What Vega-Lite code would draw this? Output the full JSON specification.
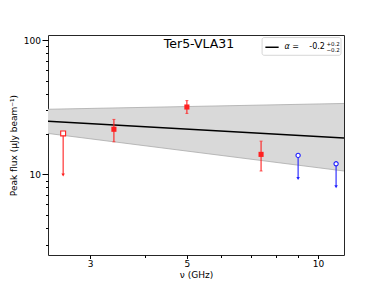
{
  "$schema": "https://vega.github.io/schema/vega-lite/v6.json",
  "width": 296,
  "height": 220,
  "autosize": "none",
  "padding": {"left": 48, "top": 35, "right": 38, "bottom": 32},
  "background": "white",
  "config": {
    "view": {"stroke": "#262626", "strokeWidth": 1},
    "axis": {
      "domain": false, "grid": false,
      "labelFont": "DejaVu Sans", "labelFontSize": 9, "labelColor": "#000",
      "tickColor": "#000", "tickWidth": 1,
      "titleFont": "DejaVu Sans", "titleFontSize": 9, "titleFontWeight": "normal", "titleColor": "#000",
      "labelOverlap": false, "labelFlush": false
    }
  },
  "datasets": {
    "band": [
      {"nu": 2.4, "lo": 20.2, "hi": 30.6, "fit": 24.9},
      {"nu": 11.47, "lo": 10.6, "hi": 33.8, "fit": 18.7}
    ],
    "points": [
      {"nu": 2.6, "flux": 20.2, "lo": 9.9, "hi": 20.2, "kind": "limit", "series": "A"},
      {"nu": 3.4, "flux": 21.7, "lo": 17.5, "hi": 25.7, "kind": "det", "series": "A"},
      {"nu": 5.0, "flux": 31.8, "lo": 28.5, "hi": 35.5, "kind": "det", "series": "A"},
      {"nu": 7.4, "flux": 14.1, "lo": 10.6, "hi": 17.7, "kind": "det", "series": "A"},
      {"nu": 9.0, "flux": 13.85, "lo": 9.3, "hi": 13.85, "kind": "limit", "series": "B"},
      {"nu": 11.0, "flux": 12.0, "lo": 8.1, "hi": 12.0, "kind": "limit", "series": "B"}
    ]
  },
  "layer": [
    {
      "data": {"name": "band"},
      "mark": {"type": "area", "fill": "#d9d9d9", "opacity": 1, "clip": true},
      "encoding": {
        "x": {"field": "nu", "type": "quantitative", "title": "ν (GHz)",
          "scale": {"type": "log", "domain": [2.4, 11.47], "nice": false},
          "axis": {
            "values": [3, 4, 5, 6, 7, 8, 9, 10],
            "labelExpr": "(datum.value == 3 || datum.value == 5 || datum.value == 10) ? datum.value + '' : ''",
            "tickSize": {"condition": {"test": "datum.value == 3 || datum.value == 5 || datum.value == 10", "value": 3.5}, "value": 2.5},
            "labelPadding": 1, "titlePadding": 2
          }},
        "y": {"field": "lo", "type": "quantitative", "title": "Peak flux (μJy beam⁻¹)",
          "scale": {"type": "log", "domain": [2.506, 109.5], "nice": false},
          "axis": {
            "values": [3, 4, 5, 6, 7, 8, 9, 10, 20, 30, 40, 50, 60, 70, 80, 90, 100],
            "labelExpr": "(datum.value == 10 || datum.value == 100) ? datum.value + '' : ''",
            "tickSize": {"condition": {"test": "datum.value == 10 || datum.value == 100", "value": 6}, "value": 2.5},
            "labelPadding": 1.5, "titlePadding": 5
          }},
        "y2": {"field": "hi"}
      }
    },
    {
      "data": {"name": "band"},
      "mark": {"type": "line", "stroke": "#ababab", "strokeWidth": 0.8, "clip": true},
      "encoding": {
        "x": {"field": "nu", "type": "quantitative", "title": "ν (GHz)"},
        "y": {"field": "hi", "type": "quantitative", "title": "Peak flux (μJy beam⁻¹)"}
      }
    },
    {
      "data": {"name": "band"},
      "mark": {"type": "line", "stroke": "#ababab", "strokeWidth": 0.8, "clip": true},
      "encoding": {
        "x": {"field": "nu", "type": "quantitative", "title": "ν (GHz)"},
        "y": {"field": "lo", "type": "quantitative", "title": "Peak flux (μJy beam⁻¹)"}
      }
    },
    {
      "data": {"name": "band"},
      "mark": {"type": "line", "stroke": "#000", "strokeWidth": 1.5, "clip": true},
      "encoding": {
        "x": {"field": "nu", "type": "quantitative", "title": "ν (GHz)"},
        "y": {"field": "fit", "type": "quantitative", "title": "Peak flux (μJy beam⁻¹)"}
      }
    },
    {
      "data": {"name": "points"},
      "mark": {"type": "rule", "strokeWidth": 1.1},
      "encoding": {
        "x": {"field": "nu", "type": "quantitative", "title": "ν (GHz)"},
        "y": {"field": "lo", "type": "quantitative", "title": "Peak flux (μJy beam⁻¹)"},
        "y2": {"field": "hi"},
        "color": {"field": "series", "type": "nominal", "scale": {"domain": ["A", "B"], "range": ["#ff2020", "#2020ff"]}, "legend": null}
      }
    },
    {
      "data": {"name": "points"},
      "transform": [{"filter": "datum.kind == 'det'"}],
      "mark": {"type": "tick", "orient": "horizontal", "size": 3, "thickness": 1},
      "encoding": {
        "x": {"field": "nu", "type": "quantitative", "title": "ν (GHz)"},
        "y": {"field": "hi", "type": "quantitative", "title": "Peak flux (μJy beam⁻¹)"},
        "color": {"field": "series", "type": "nominal", "scale": {"domain": ["A", "B"], "range": ["#ff2020", "#2020ff"]}, "legend": null}
      }
    },
    {
      "data": {"name": "points"},
      "transform": [{"filter": "datum.kind == 'det'"}],
      "mark": {"type": "tick", "orient": "horizontal", "size": 3, "thickness": 1},
      "encoding": {
        "x": {"field": "nu", "type": "quantitative", "title": "ν (GHz)"},
        "y": {"field": "lo", "type": "quantitative", "title": "Peak flux (μJy beam⁻¹)"},
        "color": {"field": "series", "type": "nominal", "scale": {"domain": ["A", "B"], "range": ["#ff2020", "#2020ff"]}, "legend": null}
      }
    },
    {
      "data": {"name": "points"},
      "transform": [{"filter": "datum.kind == 'limit'"}],
      "mark": {"type": "point", "shape": "triangle-down", "filled": true, "size": 12, "opacity": 1},
      "encoding": {
        "x": {"field": "nu", "type": "quantitative", "title": "ν (GHz)"},
        "y": {"field": "lo", "type": "quantitative", "title": "Peak flux (μJy beam⁻¹)"},
        "color": {"field": "series", "type": "nominal", "scale": {"domain": ["A", "B"], "range": ["#ff2020", "#2020ff"]}, "legend": null}
      }
    },
    {
      "data": {"name": "points"},
      "transform": [{"filter": "datum.kind == 'det'"}],
      "mark": {"type": "point", "shape": "square", "filled": true, "size": 26, "opacity": 1},
      "encoding": {
        "x": {"field": "nu", "type": "quantitative", "title": "ν (GHz)"},
        "y": {"field": "flux", "type": "quantitative", "title": "Peak flux (μJy beam⁻¹)"},
        "color": {"field": "series", "type": "nominal", "scale": {"domain": ["A", "B"], "range": ["#ff2020", "#2020ff"]}, "legend": null}
      }
    },
    {
      "data": {"name": "points"},
      "transform": [{"filter": "datum.kind == 'limit' && datum.series == 'A'"}],
      "mark": {"type": "point", "shape": "square", "filled": false, "fill": "white", "fillOpacity": 1, "size": 24, "strokeWidth": 1.1, "opacity": 1},
      "encoding": {
        "x": {"field": "nu", "type": "quantitative", "title": "ν (GHz)"},
        "y": {"field": "flux", "type": "quantitative", "title": "Peak flux (μJy beam⁻¹)"},
        "color": {"field": "series", "type": "nominal", "scale": {"domain": ["A", "B"], "range": ["#ff2020", "#2020ff"]}, "legend": null}
      }
    },
    {
      "data": {"name": "points"},
      "transform": [{"filter": "datum.kind == 'limit' && datum.series == 'B'"}],
      "mark": {"type": "point", "shape": "circle", "filled": false, "fill": "white", "fillOpacity": 1, "size": 18, "strokeWidth": 1.1, "opacity": 1},
      "encoding": {
        "x": {"field": "nu", "type": "quantitative", "title": "ν (GHz)"},
        "y": {"field": "flux", "type": "quantitative", "title": "Peak flux (μJy beam⁻¹)"},
        "color": {"field": "series", "type": "nominal", "scale": {"domain": ["A", "B"], "range": ["#ff2020", "#2020ff"]}, "legend": null}
      }
    },
    {
      "data": {"values": [{}]},
      "mark": {"type": "text", "text": "Ter5-VLA31", "font": "DejaVu Sans", "fontSize": 12.5, "align": "center", "baseline": "middle", "color": "#000"},
      "encoding": {"x": {"datum": 5.33}, "y": {"datum": 94.6}}
    },
    {
      "data": {"values": [{}]},
      "mark": {"type": "rect", "fill": "white", "stroke": "#cccccc", "strokeWidth": 0.8, "cornerRadius": 2},
      "encoding": {"x": {"datum": 7.44}, "x2": {"datum": 11.29}, "y": {"datum": 104.8}, "y2": {"datum": 77.3}}
    },
    {
      "data": {"values": [{}]},
      "mark": {"type": "rule", "color": "#000", "strokeWidth": 1.5},
      "encoding": {"x": {"datum": 7.57}, "x2": {"datum": 8.12}, "y": {"datum": 88.7}}
    },
    {
      "data": {"values": [{}]},
      "mark": {"type": "text", "text": "α =", "font": "DejaVu Sans", "fontSize": 8, "fontStyle": "italic", "align": "left", "baseline": "middle", "color": "#000"},
      "encoding": {"x": {"datum": 8.37}, "y": {"datum": 88.7}}
    },
    {
      "data": {"values": [{}]},
      "mark": {"type": "text", "text": "-0.2", "font": "DejaVu Sans", "fontSize": 8, "align": "left", "baseline": "middle", "color": "#000"},
      "encoding": {"x": {"datum": 9.55}, "y": {"datum": 88.7}}
    },
    {
      "data": {"values": [{}]},
      "mark": {"type": "text", "text": "+0.2", "font": "DejaVu Sans", "fontSize": 5.5, "align": "left", "baseline": "middle", "color": "#000"},
      "encoding": {"x": {"datum": 10.45}, "y": {"datum": 93.5}}
    },
    {
      "data": {"values": [{}]},
      "mark": {"type": "text", "text": "−0.2", "font": "DejaVu Sans", "fontSize": 5.5, "align": "left", "baseline": "middle", "color": "#000"},
      "encoding": {"x": {"datum": 10.45}, "y": {"datum": 84.0}}
    }
  ]
}
